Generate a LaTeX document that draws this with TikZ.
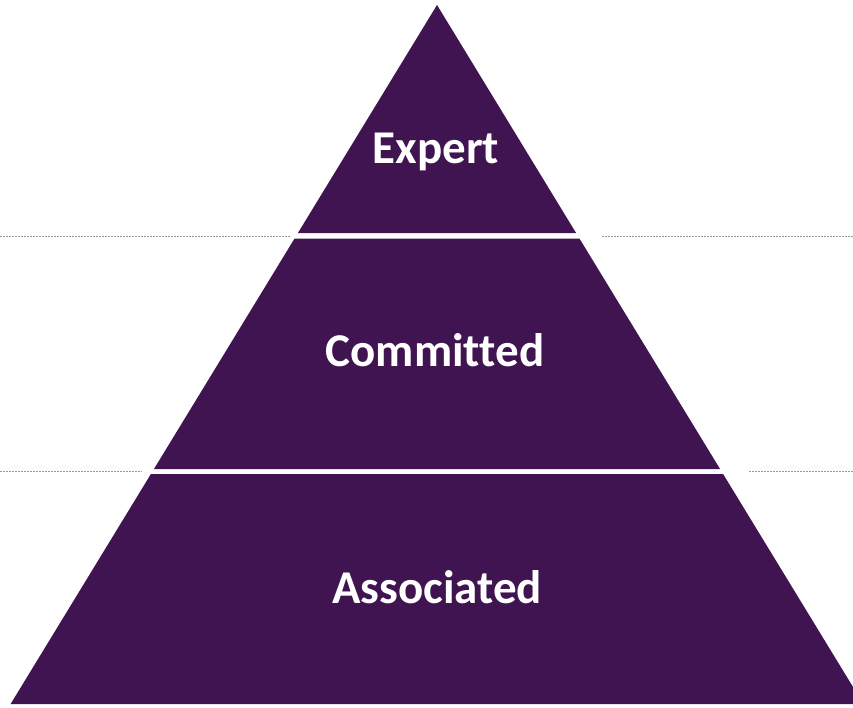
\documentclass[tikz,border=0pt]{standalone}
\usepackage{fontspec}
\setmainfont[Ligatures=NoCommon]{Carlito}
\definecolor{levelpurple}{HTML}{3F1451}
\tikzset{
  band/.style={fill=levelpurple, draw=none},
  levellabel/.style={text=white, font=\fontsize{47}{54}\selectfont\bfseries, anchor=base},
  divider/.style={gray!80, line width=0.8pt, dash pattern=on 1.6pt off 1.4pt}
}
\begin{document}
\begin{tikzpicture}[x=1pt,y=-1pt]
    \def \ax {437}  % apex x
    \def \ay {5}    % apex y
    \def \s {0.61}  % half width per unit of height

    \useasboundingbox (0,0) rectangle (853,707);
    \clip (0,0) rectangle (853,707);

    % Bands of the pyramid
    \fill[band] (\ax,\ay) -- ({\ax+\s*(233-\ay)},233) -- ({\ax-\s*(233-\ay)},233) -- cycle;
    \fill[band] ({\ax-\s*(238.5-\ay)},238.5) -- ({\ax+\s*(238.5-\ay)},238.5)
        -- ({\ax+\s*(469-\ay)},469) -- ({\ax-\s*(469-\ay)},469) -- cycle;
    \fill[band] ({\ax-\s*(474-\ay)},474) -- ({\ax+\s*(474-\ay)},474)
        -- ({\ax+\s*(704-\ay)},704) -- ({\ax-\s*(704-\ay)},704) -- cycle;

    % Dotted level lines
    \draw[divider] (0,236) -- (290,236);
    \draw[divider] (602,236) -- (853,236);
    \draw[divider] (0,471) -- (142,471);
    \draw[divider] (749,471) -- (853,471);

    % Labels
    \node[levellabel] (expert) at (436,163) {Expert};
    \node[levellabel] (committed) at (435,366) {Committed};
    \node[levellabel] (associated) at (437,603) {Associated};
\end{tikzpicture}
\end{document}
